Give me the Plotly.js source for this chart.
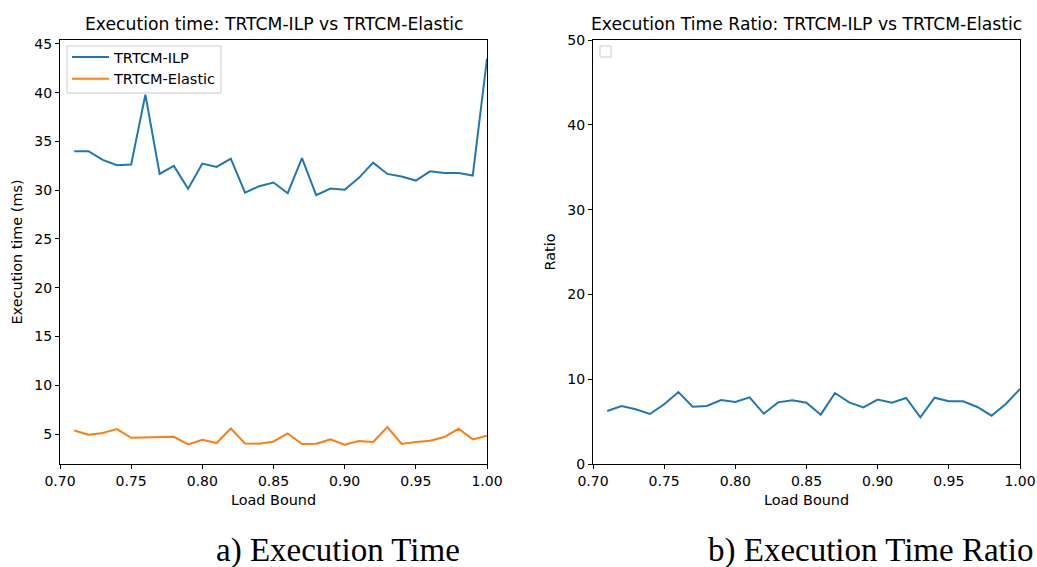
<!DOCTYPE html>
<html>
<head>
<meta charset="utf-8">
<script src="https://cdn.plot.ly/plotly-3.0.1.min.js"></script>
<style>html,body{margin:0;padding:0;background:#fff;}#chart{width:1037px;height:567px;}</style>
</head>
<body>
<div id="chart"></div>
<script>
const loadBound = [0.71,0.72,0.73,0.74,0.75,0.76,0.77,0.78,0.79,0.80,0.81,0.82,0.83,0.84,0.85,0.86,0.87,0.88,0.89,0.90,0.91,0.92,0.93,0.94,0.95,0.96,0.97,0.98,0.99,1.00];
const ilpTime = [34.0,34.0,33.1,32.56,32.63,39.8,31.67,32.49,30.14,32.73,32.39,33.24,29.76,30.41,30.79,29.69,33.28,29.49,30.17,30.04,31.27,32.83,31.67,31.4,30.99,31.94,31.77,31.77,31.5,43.5];
const elasticTime = [5.37,4.93,5.1,5.51,4.62,4.65,4.65,4.72,3.94,4.42,4.08,5.57,4.04,4.01,4.24,5.06,3.98,4.01,4.45,3.91,4.28,4.18,5.72,3.98,4.18,4.32,4.69,5.54,4.45,4.83];
const ratio = [6.25,6.84,6.45,5.9,7.04,8.49,6.76,6.84,7.55,7.31,7.86,5.93,7.27,7.51,7.23,5.82,8.37,7.27,6.68,7.59,7.23,7.78,5.5,7.82,7.39,7.39,6.72,5.7,7.08,8.84];
const xTicks = [0.70,0.75,0.80,0.85,0.90,0.95,1.00];
const leftYTicks = [5,10,15,20,25,30,35,40,45];
const rightYTicks = [0,10,20,30,40,50];

const W = 1037, H = 567;
const px = v => v / W;
const py = v => (H - v) / H;
const tickFont = {family: 'DejaVu Sans', size: 14, color: '#000'};
const labelFont = {family: 'DejaVu Sans', size: 14.4, color: '#000'};
const titleFont = {family: 'DejaVu Sans', size: 17.2, color: '#000'};
const captionFont = {family: 'Liberation Serif', size: 33, color: '#000'};

const axisCommon = {
  showline: true, mirror: true, linecolor: '#000', linewidth: 1,
  ticks: 'outside', ticklen: 4, tickwidth: 1, tickcolor: '#000',
  showgrid: false, zeroline: false, tickfont: tickFont
};

const traces = [
  {x: loadBound, y: ilpTime, type: 'scatter', mode: 'lines', name: 'TRTCM-ILP',
   line: {color: '#1f77b4', width: 2}, xaxis: 'x', yaxis: 'y'},
  {x: loadBound, y: elasticTime, type: 'scatter', mode: 'lines', name: 'TRTCM-Elastic',
   line: {color: '#ff7f0e', width: 2}, xaxis: 'x', yaxis: 'y'},
  {x: loadBound, y: ratio, type: 'scatter', mode: 'lines', name: 'Ratio', showlegend: false,
   line: {color: '#1f77b4', width: 2}, xaxis: 'x2', yaxis: 'y2'}
];

const layout = {
  width: W, height: H,
  margin: {l: 0, r: 0, t: 0, b: 0},
  paper_bgcolor: '#fff', plot_bgcolor: '#fff',
  font: tickFont,
  showlegend: true,
  legend: {
    x: px(67), y: py(41), xanchor: 'left', yanchor: 'top',
    bgcolor: 'rgba(0,0,0,0)', borderwidth: 0,
    font: {family: 'DejaVu Sans', size: 14.5, color: '#000'},
    tracegroupgap: 0, itemwidth: 37
  },
  xaxis: Object.assign({}, axisCommon, {
    domain: [px(60), px(487)], range: [0.70, 1.00], anchor: 'y',
    tickvals: xTicks, ticktext: xTicks.map(v => v.toFixed(2)),
    title: {text: 'Load Bound', font: labelFont, standoff: 7}
  }),
  yaxis: Object.assign({}, axisCommon, {
    domain: [py(464), py(40)], range: [1.93, 45.4], anchor: 'x',
    tickvals: leftYTicks, ticktext: leftYTicks.map(String),
    title: {text: 'Execution time (ms)', font: labelFont, standoff: 8}
  }),
  xaxis2: Object.assign({}, axisCommon, {
    domain: [px(593), px(1020)], range: [0.70, 1.00], anchor: 'y2',
    tickvals: xTicks, ticktext: xTicks.map(v => v.toFixed(2)),
    title: {text: 'Load Bound', font: labelFont, standoff: 7}
  }),
  yaxis2: Object.assign({}, axisCommon, {
    domain: [py(464), py(40)], range: [0, 50], anchor: 'x2',
    tickvals: rightYTicks, ticktext: rightYTicks.map(String),
    title: {text: 'Ratio', font: labelFont, standoff: 8}
  }),
  shapes: [
    {type: 'rect', xref: 'paper', yref: 'paper', layer: 'above',
     x0: px(67), x1: px(221), y0: py(93), y1: py(46),
     line: {color: '#cccccc', width: 1}, fillcolor: 'rgba(255,255,255,0.8)'},
    {type: 'rect', xref: 'paper', yref: 'paper', x0: px(600), x1: px(611), y0: py(57), y1: py(46),
     line: {color: '#cccccc', width: 1}, fillcolor: 'rgba(255,255,255,0.8)'}
  ],
  annotations: [
    {text: 'Execution time: TRTCM-ILP vs TRTCM-Elastic', xref: 'paper', yref: 'paper',
     x: px(273.5), y: py(24), xanchor: 'center', yanchor: 'middle', showarrow: false, font: titleFont},
    {text: 'Execution Time Ratio: TRTCM-ILP vs TRTCM-Elastic', xref: 'paper', yref: 'paper',
     x: px(806.5), y: py(24), xanchor: 'center', yanchor: 'middle', showarrow: false, font: titleFont},
    {text: 'a) Execution Time', xref: 'paper', yref: 'paper',
     x: px(214), y: -0.007, xanchor: 'left', yanchor: 'bottom', showarrow: false, font: captionFont},
    {text: 'b) Execution Time Ratio', xref: 'paper', yref: 'paper',
     x: px(706), y: -0.007, xanchor: 'left', yanchor: 'bottom', showarrow: false, font: captionFont}
  ]
};

Plotly.newPlot('chart', traces, layout, {displayModeBar: false, staticPlot: true});
</script>
</body>
</html>
